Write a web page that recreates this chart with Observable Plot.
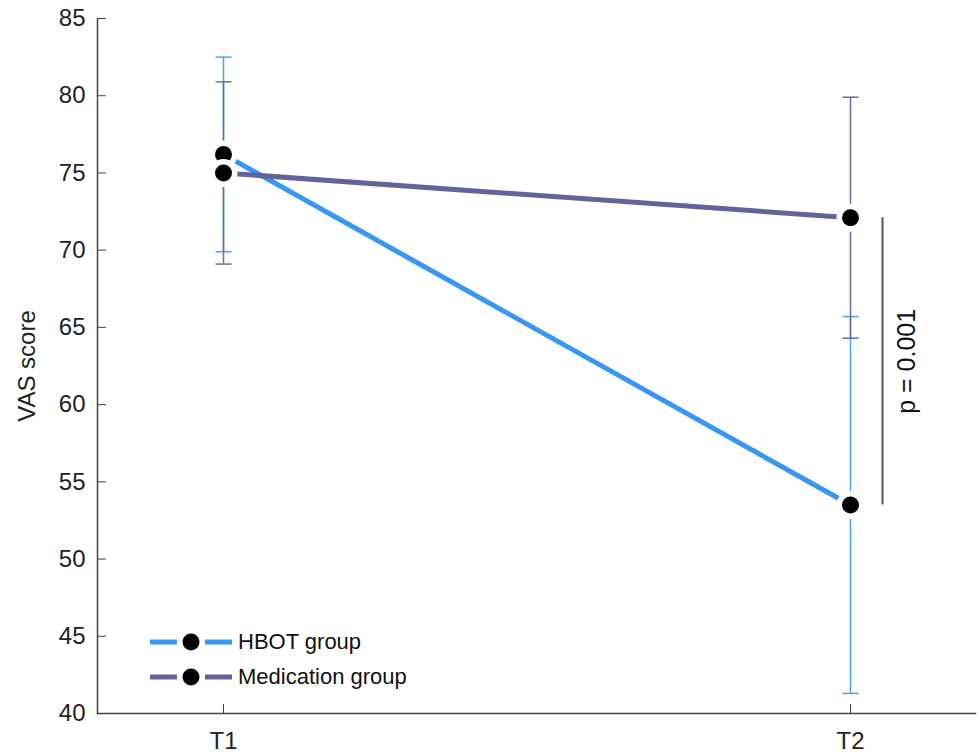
<!DOCTYPE html>
<html>
<head>
<meta charset="utf-8">
<script src="https://cdn.jsdelivr.net/npm/d3@7"></script>
<script src="https://cdn.jsdelivr.net/npm/@observablehq/plot@0.6"></script>
<style>
  html, body { margin: 0; padding: 0; background: #fff; }
  #chart { position: relative; width: 979px; height: 755px; }
  .legend { position: absolute; left: 150px; top: 624px; font-family: "Liberation Sans", Arial, sans-serif; font-size: 22px; color: #111; }
  .legend div { display: flex; align-items: center; height: 35px; }
  .legend svg { margin-right: 6px; }
</style>
</head>
<body>
<div id="chart"></div>
<script>
const times = ["T1", "T2"];
const groups = ["HBOT group", "Medication group"];
const colors = ["#3797f2", "#63639c"];
const barColors = ["#4aa2f5", "#6a6aa6"];
const hbotMean = [76.2, 53.5];
const hbotLow = [69.9, 41.3];
const hbotHigh = [82.5, 65.7];
const medMean = [75.0, 72.1];
const medLow = [69.1, 64.3];
const medHigh = [80.9, 79.9];
const yTicks = [40, 45, 50, 55, 60, 65, 70, 75, 80, 85];
const pLabel = "p = 0.001";

const hbot = times.map((t, i) => ({time: t, mean: hbotMean[i], low: hbotLow[i], high: hbotHigh[i]}));
const med = times.map((t, i) => ({time: t, mean: medMean[i], low: medLow[i], high: medHigh[i]}));
const pBracket = [{time: "T2", y1: hbotMean[1], y2: medMean[1], label: pLabel}];

const capSymbol = {
  draw(context, size) {
    const w = Math.sqrt(size / Math.PI);
    context.moveTo(-w, 0);
    context.lineTo(w, 0);
  }
};

function series(data, color, barColor) {
  return [
    Plot.ruleX(data, {x: "time", y1: "low", y2: "high", stroke: barColor, strokeWidth: 1.5}),
    Plot.dot(data, {x: "time", y: "low", symbol: capSymbol, r: 8, fill: "none", stroke: barColor, strokeWidth: 1.5}),
    Plot.dot(data, {x: "time", y: "high", symbol: capSymbol, r: 8, fill: "none", stroke: barColor, strokeWidth: 1.5})
  ];
}
function dots(data) {
  return [
    Plot.dot(data, {x: "time", y: "mean", r: 14, fill: "white", stroke: "none"}),
    Plot.dot(data, {x: "time", y: "mean", r: 8.5, fill: "black", stroke: "none"})
  ];
}

const plot = Plot.plot({
  width: 979,
  height: 755,
  marginLeft: 97,
  marginRight: 4,
  marginTop: 18,
  marginBottom: 42,
  style: {fontFamily: "Liberation Sans, Arial, sans-serif", fontSize: "24px", color: "#222", background: "white"},
  x: {type: "point", domain: times, padding: 0.2},
  y: {domain: [40, 85]},
  marks: [
    Plot.frame({anchor: "left", stroke: "#444", strokeWidth: 1.5}),
    Plot.frame({anchor: "bottom", stroke: "#444", strokeWidth: 1.5}),
    Plot.axisY({ticks: yTicks, tickSize: -9, tickPadding: 21, label: "VAS score", labelAnchor: "center", labelArrow: "none", labelOffset: 80, stroke: "#444", fontSize: 24}),
    Plot.axisX({tickSize: -9, tickPadding: 27, label: null, stroke: "#444", fontSize: 24}),
    ...series(hbot, colors[0], barColors[0]),
    ...series(med, colors[1], barColors[1]),
    Plot.line(hbot, {x: "time", y: "mean", stroke: colors[0], strokeWidth: 5}),
    Plot.line(med, {x: "time", y: "mean", stroke: colors[1], strokeWidth: 5}),
    ...dots(hbot),
    ...dots(med),
    Plot.ruleX(pBracket, {x: "time", y1: "y1", y2: "y2", dx: 32, stroke: "#555", strokeWidth: 2}),
    Plot.text(pBracket, {x: "time", y: d => (d.y1 + d.y2) / 2, text: "label", dx: 56, rotate: -90, fontSize: 25, fill: "#111"})
  ]
});
document.getElementById("chart").appendChild(plot);

const legend = document.createElement("div");
legend.className = "legend";
groups.forEach((g, i) => {
  const row = document.createElement("div");
  row.innerHTML = `<svg width="82" height="20"><line x1="0" x2="27" y1="10" y2="10" stroke="${colors[i]}" stroke-width="5"/><line x1="55" x2="82" y1="10" y2="10" stroke="${colors[i]}" stroke-width="5"/><circle cx="41" cy="10" r="8.5" fill="black"/></svg><span>${g}</span>`;
  legend.appendChild(row);
});
document.getElementById("chart").appendChild(legend);
</script>
</body>
</html>
